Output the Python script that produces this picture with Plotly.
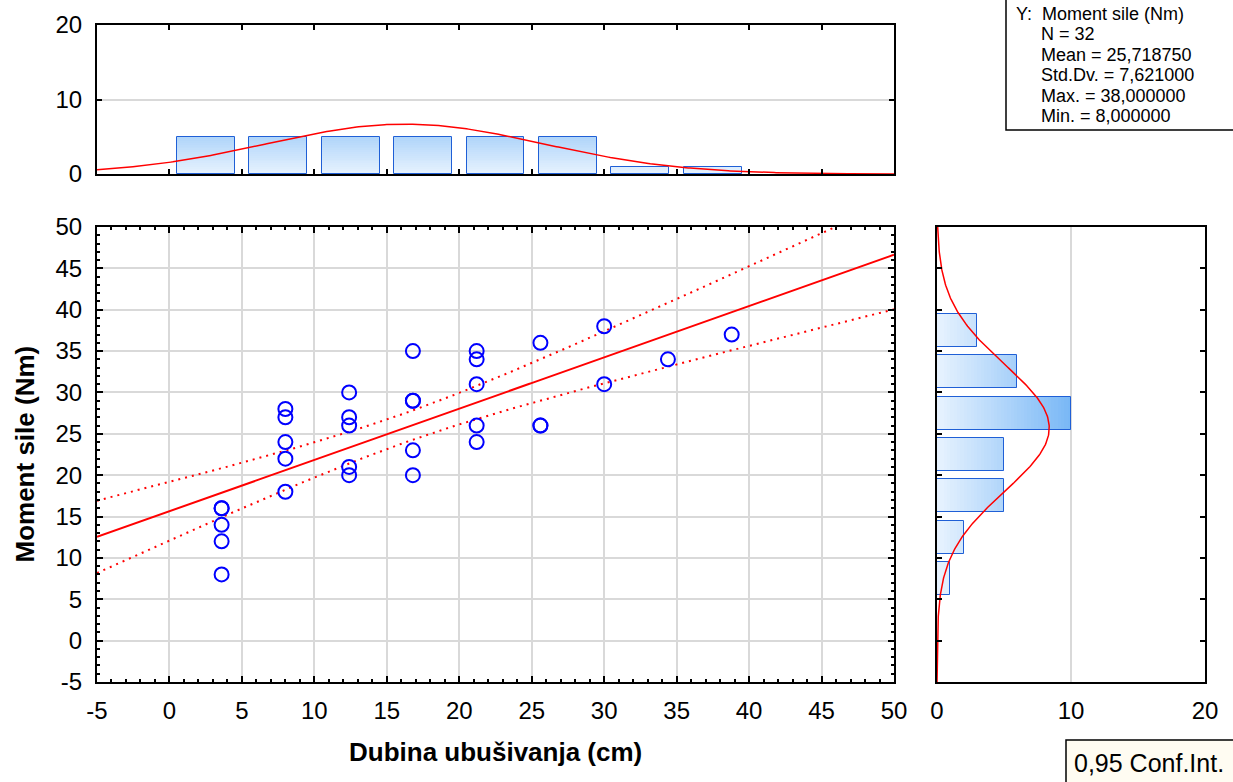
import numpy as np
import plotly.graph_objects as go

# ---------------- data ----------------
depth = [3.6, 3.6, 3.6, 3.6, 3.6,
         8.0, 8.0, 8.0, 8.0, 8.0,
         12.4, 12.4, 12.4, 12.4, 12.4,
         16.8, 16.8, 16.8, 16.8, 16.8,
         21.2, 21.2, 21.2, 21.2, 21.2,
         25.6, 25.6, 25.6,
         30.0, 30.0,
         34.4,
         38.8]
moment = [8, 12, 14, 16, 16,
          18, 22, 24, 27, 28,
          20, 21, 26, 27, 30,
          20, 23, 29, 29, 35,
          24, 26, 31, 34, 35,
          26, 26, 36,
          31, 38,
          34,
          37]

top_bin_centers = [2.5, 7.5, 12.5, 17.5, 22.5, 27.5, 32.5, 37.5]
top_counts = [5, 5, 5, 5, 5, 5, 1, 1]
right_bin_centers = [7.5, 12.5, 17.5, 22.5, 27.5, 32.5, 37.5]
right_counts = [1, 2, 5, 5, 10, 6, 3]
bin_width = 5

main_ticks = [-5, 0, 5, 10, 15, 20, 25, 30, 35, 40, 45, 50]
main_tick_text = ["-5", "0", "5", "10", "15", "20", "25", "30", "35", "40", "45", "50"]

stats_lines = ["Y:  Moment sile (Nm)", "N = 32", "Mean = 25,718750",
               "Std.Dv. = 7,621000", "Max. = 38,000000", "Min. = 8,000000"]
x_title = "Dubina ubušivanja (cm)"
y_title = "Moment sile (Nm)"
conf_label = "0,95 Conf.Int."
t_crit = 2.0423  # t(0.975, df=30)

# ---------------- geometry helpers ----------------
W, H = 1233, 782
def px(x): return x / W
def py(y): return 1 - y / H

FONT = "Liberation Sans, Arial, sans-serif"
RED = "#ff0000"
BLUE = "#0000ff"
EDGE = "#1f5fd6"
GRID = "#d9d9d9"

lo = np.array([232, 243, 254]); hi = np.array([120, 183, 246])
def grad(v):
    t = min(max(v / 10.0, 0), 1)
    c = lo + (hi - lo) * t
    return "rgb(%d,%d,%d)" % tuple(int(round(a)) for a in c)

fig = go.Figure()

# ---------------- top histogram (x variable) ----------------
step = 0.25
tc = np.array(top_counts, float)
for k in range(int(np.ceil(tc.max() / step))):
    base = k * step
    h = np.clip(tc - base, 0, step)
    fig.add_trace(go.Bar(x=top_bin_centers, y=h, base=base, width=4,
                         marker=dict(color=grad(base + step / 2), line=dict(width=0)),
                         xaxis="x2", yaxis="y2", hoverinfo="skip", showlegend=False))
fig.add_trace(go.Bar(x=top_bin_centers, y=top_counts, width=4,
                     marker=dict(color="rgba(0,0,0,0)", line=dict(color=EDGE, width=1)),
                     xaxis="x2", yaxis="y2", showlegend=False))
xd = np.array(depth); yd = np.array(moment, float)
n = len(xd)
mx, sx = xd.mean(), xd.std(ddof=1)
xs = np.linspace(-5, 50, 400)
fig.add_trace(go.Scatter(x=xs, y=n * bin_width * np.exp(-0.5 * ((xs - mx) / sx) ** 2) / (sx * np.sqrt(2 * np.pi)),
                         mode="lines", line=dict(color=RED, width=1.5),
                         xaxis="x2", yaxis="y2", showlegend=False))

# ---------------- right histogram (y variable) ----------------
rc = np.array(right_counts, float)
for k in range(int(np.ceil(rc.max() / step))):
    base = k * step
    h = np.clip(rc - base, 0, step)
    fig.add_trace(go.Bar(y=right_bin_centers, x=h, base=base, width=4, orientation="h",
                         marker=dict(color=grad(base + step / 2), line=dict(width=0)),
                         xaxis="x3", yaxis="y3", hoverinfo="skip", showlegend=False))
fig.add_trace(go.Bar(y=right_bin_centers, x=right_counts, width=4, orientation="h",
                     marker=dict(color="rgba(0,0,0,0)", line=dict(color=EDGE, width=1)),
                     xaxis="x3", yaxis="y3", showlegend=False))
my, sy = yd.mean(), yd.std(ddof=1)
ys = np.linspace(-5, 50, 400)
fig.add_trace(go.Scatter(y=ys, x=n * bin_width * np.exp(-0.5 * ((ys - my) / sy) ** 2) / (sy * np.sqrt(2 * np.pi)),
                         mode="lines", line=dict(color=RED, width=1.5),
                         xaxis="x3", yaxis="y3", showlegend=False))

# ---------------- main scatter + regression ----------------
slope, icpt = np.polyfit(xd, yd, 1)
resid = yd - (icpt + slope * xd)
s = np.sqrt((resid ** 2).sum() / (n - 2))
sxx = ((xd - mx) ** 2).sum()
xl = np.linspace(-5, 50, 300)
yl = icpt + slope * xl
half = t_crit * s * np.sqrt(1 / n + (xl - mx) ** 2 / sxx)
for yy in (yl + half, yl - half):
    fig.add_trace(go.Scatter(x=xl, y=yy, mode="lines", line=dict(color=RED, width=2, dash="2px,5px"),
                             xaxis="x", yaxis="y", showlegend=False))
fig.add_trace(go.Scatter(x=xl, y=yl, mode="lines", line=dict(color=RED, width=2),
                         xaxis="x", yaxis="y", showlegend=False))
fig.add_trace(go.Scatter(x=depth, y=moment, mode="markers",
                         marker=dict(symbol="circle-open", size=14, color=BLUE, line=dict(width=2, color=BLUE)),
                         xaxis="x", yaxis="y", showlegend=False))

# ---------------- layout ----------------
tickfont = dict(family=FONT, size=24, color="black")
frame = dict(showline=True, linecolor="black", linewidth=2, mirror="allticks", zeroline=False,
             automargin=False)

xdom = [px(97), px(894)]
ydom = [py(682), py(227)]

fig.update_layout(
    width=W, height=H, margin=dict(l=0, r=0, t=0, b=0, pad=0, autoexpand=False),
    paper_bgcolor="white", plot_bgcolor="white", barmode="overlay", bargap=0,
    font=dict(family=FONT, color="black"),
    xaxis=dict(domain=xdom, anchor="y", range=[-5, 50],
               tickmode="array", tickvals=main_ticks, ticktext=main_tick_text,
               ticks="inside", ticklen=6, tickwidth=2, tickcolor="black",
               minor=dict(dtick=1, tick0=0, ticks="inside", ticklen=3, tickwidth=1.5, tickcolor="black", showgrid=False),
               showgrid=True, gridcolor=GRID, gridwidth=1.5, tickfont=tickfont,
               ticklabelstandoff=6, **frame),
    yaxis=dict(domain=ydom, anchor="x", range=[-5, 50],
               tickmode="array", tickvals=main_ticks, ticktext=main_tick_text,
               ticks="inside", ticklen=6, tickwidth=2, tickcolor="black",
               minor=dict(dtick=1, tick0=0, ticks="inside", ticklen=3, tickwidth=1.5, tickcolor="black", showgrid=False),
               showgrid=True, gridcolor=GRID, gridwidth=1.5, tickfont=tickfont,
               ticklabelstandoff=8, **frame),
    xaxis2=dict(domain=xdom, anchor="y2", range=[-5, 50], dtick=5, tick0=0,
                ticks="inside", ticklen=5, tickwidth=1.5, tickcolor="black",
                showticklabels=False, showgrid=False, **frame),
    yaxis2=dict(domain=[py(174), py(25)], anchor="x2", range=[0, 20], dtick=10,
                ticks="inside", ticklen=5, tickwidth=1.5, tickcolor="black",
                showgrid=True, gridcolor=GRID, gridwidth=1.5, tickfont=tickfont,
                ticklabelstandoff=8, **frame),
    xaxis3=dict(domain=[px(937), px(1205)], anchor="y3", range=[0, 20], dtick=10,
                ticks="", showgrid=True, gridcolor=GRID, gridwidth=1.5, tickfont=tickfont,
                ticklabelstandoff=6, **frame),
    yaxis3=dict(domain=ydom, anchor="x3", range=[-5, 50], dtick=5, tick0=0,
                ticks="inside", ticklen=5, tickwidth=1.5, tickcolor="black",
                showticklabels=False, showgrid=False, **frame),
)

annotations = [
    dict(text="<b>%s</b>" % x_title, x=px(495.5), y=py(752), xref="paper", yref="paper",
         showarrow=False, font=dict(family=FONT, size=26, color="black"), xanchor="center", yanchor="middle"),
    dict(text="<b>%s</b>" % y_title, x=px(24), y=py(454.5), xref="paper", yref="paper", textangle=-90,
         showarrow=False, font=dict(family=FONT, size=26, color="black"), xanchor="center", yanchor="middle"),
    dict(text=conf_label, x=px(1072), y=py(763), xref="paper", yref="paper",
         showarrow=False, font=dict(family=FONT, size=25, color="black"), xanchor="left", yanchor="middle"),
]
line_y = [14, 34, 54.5, 75, 95.5, 116]
for i, (t, yy) in enumerate(zip(stats_lines, line_y)):
    annotations.append(dict(text=t, x=px(1014 if i == 0 else 1039), y=py(yy), xref="paper", yref="paper",
                            showarrow=False, font=dict(family=FONT, size=18, color="black"),
                            xanchor="left", yanchor="middle"))
fig.update_layout(annotations=annotations)

fig.update_layout(shapes=[
    dict(type="rect", xref="paper", yref="paper", x0=px(1006), x1=px(1245), y0=py(130), y1=py(-5),
         line=dict(color="black", width=1.5), fillcolor="white", layer="below"),
    dict(type="rect", xref="paper", yref="paper", x0=px(1066), x1=px(1245), y0=py(790), y1=py(740),
         line=dict(color="black", width=1.5), fillcolor="#fffcf2", layer="below"),
])

fig.write_html("out.html")
